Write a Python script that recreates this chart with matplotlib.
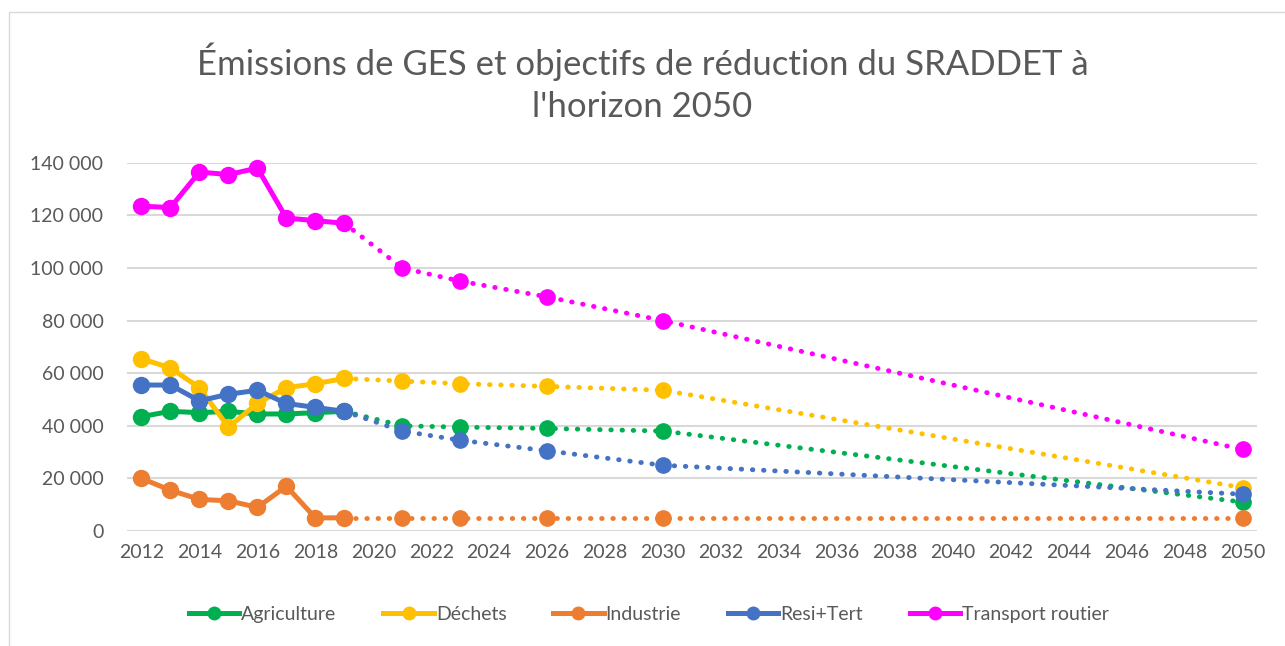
import matplotlib.pyplot as plt
from matplotlib.lines import Line2D
from matplotlib.patches import Rectangle
from matplotlib.ticker import FuncFormatter

plt.rcParams['font.family'] = ['Lato', 'DejaVu Sans']

# observed emissions 2012-2019
years = [2012, 2013, 2014, 2015, 2016, 2017, 2018, 2019]
agriculture = [43500, 45500, 45000, 45500, 44500, 44500, 45000, 45500]
dechets = [65500, 62000, 54500, 39500, 48500, 54500, 56000, 58000]
industrie = [20000, 15500, 12000, 11500, 9000, 17000, 5000, 5000]
resi_tert = [55500, 55500, 49500, 52000, 53500, 48500, 47000, 45500]
transport = [123500, 123000, 136500, 135500, 138000, 119000, 118000, 117000]

# SRADDET objectives
obj_years = [2021, 2023, 2026, 2030, 2050]
obj_agriculture = [40000, 39500, 39000, 38000, 11000]
obj_dechets = [57000, 56000, 55000, 53500, 16500]
obj_industrie = [5000, 5000, 5000, 5000, 5000]
obj_resi_tert = [38000, 34500, 30500, 25000, 14000]
obj_transport = [100000, 95000, 89000, 80000, 31000]

names = ["Agriculture", "Déchets", "Industrie", "Resi+Tert", "Transport routier"]
colors = ["#00B050", "#FFC000", "#ED7D31", "#4472C4", "#FF00FF"]
hist = [agriculture, dechets, industrie, resi_tert, transport]
objs = [obj_agriculture, obj_dechets, obj_industrie, obj_resi_tert, obj_transport]

fig = plt.figure(figsize=(12.85, 6.46), dpi=100)
ax = fig.add_axes([127 / 1285, 0.178, 1130 / 1285, 0.570])

for name, c, h, o in zip(names, colors, hist, objs):
    # dotted projection from last observed point
    ax.plot([years[-1]] + obj_years, [h[-1]] + o, color=c, lw=3.5,
            linestyle=(0, (0.1, 2.2)), dash_capstyle='round', zorder=2,
            clip_on=False)
    ax.plot(obj_years, o, 'o', color=c, ms=11, zorder=3, clip_on=False)
    ax.plot(years, h, '-o', color=c, lw=3.6, ms=11.5, zorder=4, clip_on=False)

ax.set_xlim(2011.5, 2050.5)
ax.set_ylim(0, 140000)
ax.set_xticks(range(2012, 2051, 2))
ax.set_yticks(range(0, 140001, 20000))
ax.yaxis.set_major_formatter(FuncFormatter(lambda v, p: f"{int(v):,}".replace(",", " ")))
ax.grid(axis='y', color='#D9D9D9', lw=1.5)
ax.set_axisbelow(True)
for s in ax.spines.values():
    s.set_visible(False)
ax.tick_params(length=0, labelsize=14, labelcolor='#595959', pad=9)
ax.tick_params(axis='y', pad=17)

fig.text(0.5, 0.872, "Émissions de GES et objectifs de réduction du SRADDET à\nl'horizon 2050",
         ha='center', va='center', fontsize=25, color='#595959', linespacing=1.38)

handles = [Line2D([], [], color=c, lw=3.6, marker='o', ms=9) for c in colors]
fig.legend(handles, names, loc='center', bbox_to_anchor=(0.505, 0.049), ncol=5,
           frameon=False, fontsize=14, labelcolor='#595959', handlelength=2.6,
           handletextpad=0.1, columnspacing=2.4)

fig.add_artist(Rectangle((0.007, -0.01), 1.5, 0.991, transform=fig.transFigure,
                         fill=False, edgecolor='#D9D9D9', lw=1))

fig.savefig("out.png", dpi=100)
